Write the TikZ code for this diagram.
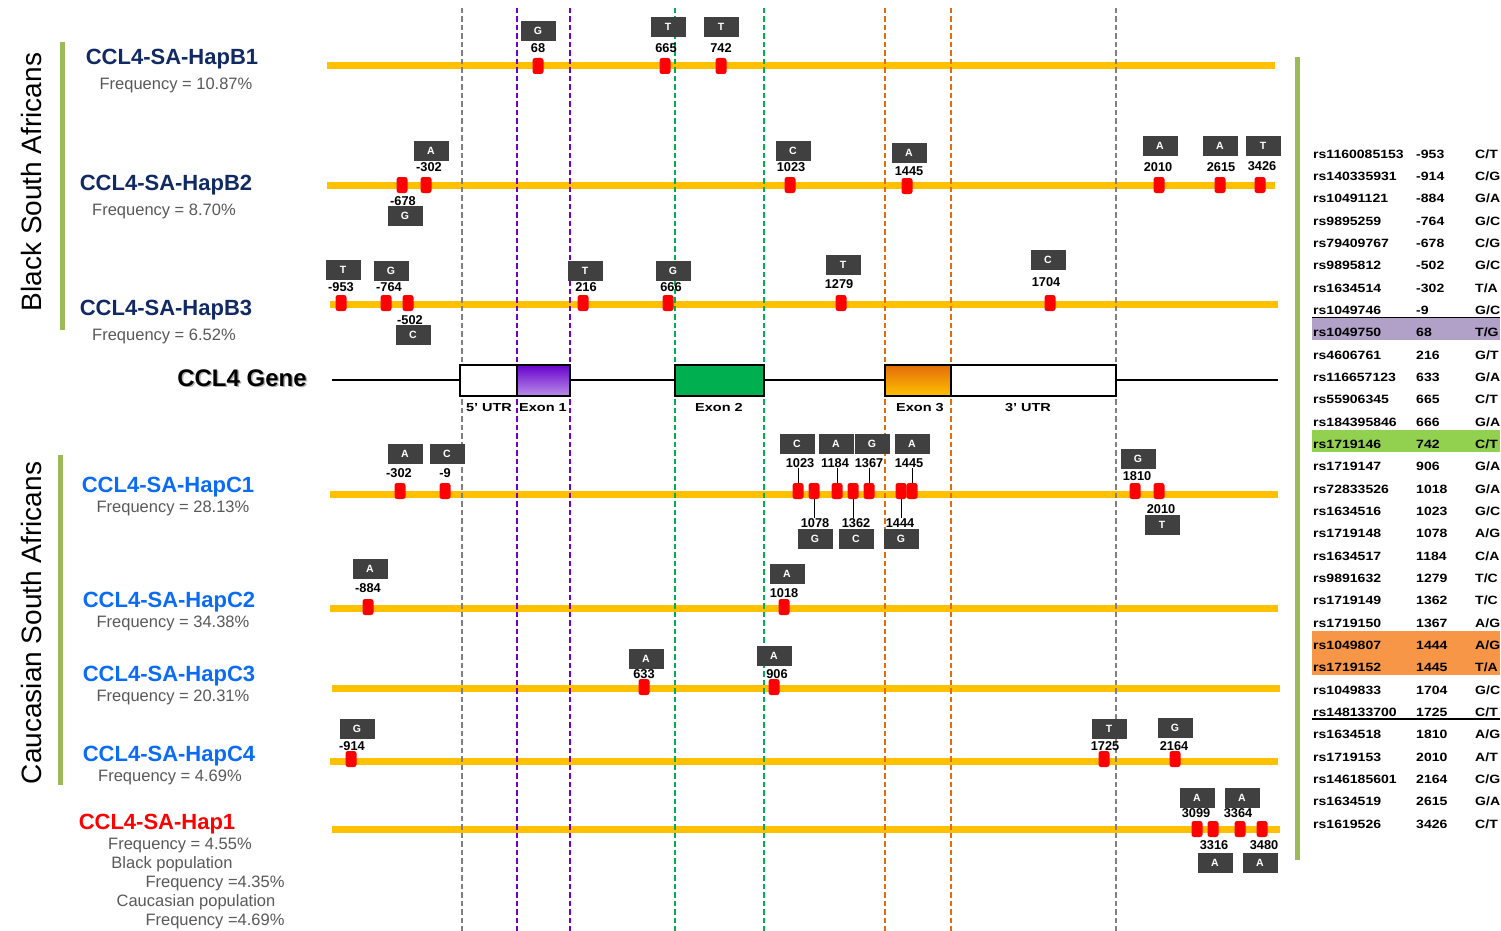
\documentclass[tikz,border=0pt]{standalone}
\usepackage{fontspec}
\setmainfont{Liberation Sans}
\usepackage{graphicx}
\definecolor{barY}{RGB}{255,192,0}
\definecolor{boxG}{RGB}{64,64,64}
\definecolor{hapNavy}{RGB}{18,42,100}
\definecolor{hapBlue}{RGB}{10,108,245}
\definecolor{grnBar}{RGB}{155,187,89}
\definecolor{freqG}{RGB}{89,89,89}
\definecolor{dGray}{RGB}{128,128,128}
\definecolor{dPurp}{RGB}{112,0,204}
\definecolor{dGreen}{RGB}{0,176,80}
\definecolor{dOrange}{RGB}{228,108,10}
\definecolor{tPurp}{RGB}{177,160,199}
\definecolor{tGreen}{RGB}{146,208,80}
\definecolor{tOrange}{RGB}{247,150,70}
\definecolor{exPurp}{RGB}{102,0,204}
\definecolor{exOrT}{RGB}{226,107,10}
\definecolor{exOrM}{RGB}{255,102,0}
\newcommand\sx[1]{\scalebox{1.17}[1]{#1}}
\newcommand\gx[1]{\scalebox{1.25}[1]{#1}}
\newcommand\snp[9]{%
  \node[mk] (m#1) at (#2,#3) {};
  \node[num] (n#1) at (#4,#5) {#6};
  \node[al] (a#1) at (#7,#8) {#9};}
\tikzset{
  vdash/.style={line width=2pt, dash pattern=on 5.5pt off 3pt},
  hapbar/.style={draw=barY, line width=7pt},
  grnbar/.style={draw=grnBar, line width=5pt},
  mk/.style={rectangle, rounded corners=2.5pt, fill=red, minimum width=11pt, minimum height=16pt, inner sep=0pt},
  num/.style={font=\bfseries\fontsize{12.8}{13}\selectfont, inner sep=0pt, text height=9.2pt, text depth=0pt},
  al/.style={fill=boxG, text=white, font=\bfseries\fontsize{10.5}{11}\selectfont, minimum width=35pt, minimum height=20pt, inner sep=0pt},
  hapname/.style={font=\bfseries\fontsize{22}{24}\selectfont, inner sep=0pt, text height=15.7pt, text depth=0pt},
  freq/.style={font=\fontsize{16.5}{18}\selectfont, text=freqG, inner sep=0pt, text height=11.8pt, text depth=0pt},
  tab/.style={font=\bfseries\fontsize{12}{13}\selectfont, anchor=west, inner sep=0pt, text height=8.6pt, text depth=0pt},
  glab/.style={font=\bfseries\fontsize{11.6}{12}\selectfont, inner sep=0pt, text height=8.3pt, text depth=0pt},
  gbox/.style={draw=black, line width=2pt, minimum height=31pt, inner sep=0pt},
  gline/.style={line width=2pt},
  tick/.style={line width=1pt},
  side/.style={rotate=90, font=\fontsize{28}{30}\selectfont, inner sep=0pt}
}
\begin{document}
\begin{tikzpicture}[x=1pt,y=-1pt]
\useasboundingbox (0,0) rectangle (1501,931);
\fill[white] (0,0) rectangle (1501,931);

% side labels and green bars
\node[side] (lblB) at (31,182) {Black South Africans};
\node[side] (lblC) at (31,623) {Caucasian South Africans};
\draw[grnbar] (62,42) -- (62,330);
\draw[grnbar] (60,455) -- (60,785);
\draw[grnbar] (1297,57) -- (1297,860);

% haplotype names
\node[hapname, text=hapNavy] (hB1) at (172,57) {CCL4-SA-HapB1};
\node[freq] (fB1) at (176,84) {Frequency = 10.87\%};
\node[hapname, text=hapNavy] (hB2) at (166,183) {CCL4-SA-HapB2};
\node[freq] (fB2) at (164,210) {Frequency = 8.70\%};
\node[hapname, text=hapNavy] (hB3) at (166,308) {CCL4-SA-HapB3};
\node[freq] (fB3) at (164,335) {Frequency = 6.52\%};
\node[hapname, text=hapBlue] (hC1) at (168,485) {CCL4-SA-HapC1};
\node[freq] (fC1) at (173,507) {Frequency = 28.13\%};
\node[hapname, text=hapBlue] (hC2) at (169,600) {CCL4-SA-HapC2};
\node[freq] (fC2) at (173,622) {Frequency = 34.38\%};
\node[hapname, text=hapBlue] (hC3) at (169,674) {CCL4-SA-HapC3};
\node[freq] (fC3) at (173,696) {Frequency = 20.31\%};
\node[hapname, text=hapBlue] (hC4) at (169,754) {CCL4-SA-HapC4};
\node[freq] (fC4) at (170,776) {Frequency = 4.69\%};
\node[hapname, text=red] (hH1) at (157,822) {CCL4-SA-Hap1};
\node[freq] (fH1) at (180,844) {Frequency = 4.55\%};
\node[freq] (fH1b) at (172,863) {Black population};
\node[freq] (fH1c) at (215,882) {Frequency =4.35\%};
\node[freq] (fH1d) at (196,901) {Caucasian population};
\node[freq] (fH1e) at (215,920) {Frequency =4.69\%};

% haplotype bars
\draw[hapbar] (327,66) -- (1275,66);
\draw[hapbar] (327,185) -- (1275,185);
\draw[hapbar] (330,304) -- (1278,304);
\draw[hapbar] (330,494) -- (1278,494);
\draw[hapbar] (330,608) -- (1278,608);
\draw[hapbar] (332,688) -- (1280,688);
\draw[hapbar] (330,761) -- (1278,761);
\draw[hapbar] (332,829) -- (1280,829);

% dashed region lines
\draw[vdash, dGray] (462,8) -- (462,931);
\draw[vdash, dPurp] (517,8) -- (517,931);
\draw[vdash, dPurp] (570,8) -- (570,931);
\draw[vdash, dGreen] (675,8) -- (675,931);
\draw[vdash, dGreen] (764,8) -- (764,931);
\draw[vdash, dOrange] (885,8) -- (885,931);
\draw[vdash, dOrange] (951,8) -- (951,931);
\draw[vdash, dGray] (1116,8) -- (1116,931);

% gene
\node[font=\bfseries\fontsize{24}{26}\selectfont, text=black!30, inner sep=0pt] (geneSh) at (243.5,379.5) {CCL4 Gene};
\node[font=\bfseries\fontsize{24}{26}\selectfont, inner sep=0pt] (geneT) at (242,378) {CCL4 Gene};
\coordinate (gs) at (332,380);
\coordinate (ge) at (1278,380);
\node[gbox, fill=white, minimum width=57pt] (utr5) at (488.5,380) {};
\node[gbox, top color=exPurp, middle color=exPurp, bottom color=exPurp!45!white, minimum width=53pt] (ex1) at (543.5,380) {};
\node[gbox, fill=dGreen, minimum width=89pt] (ex2) at (719.5,380) {};
\node[gbox, top color=exOrT, middle color=exOrM, bottom color=barY, minimum width=66pt] (ex3) at (918,380) {};
\node[gbox, fill=white, minimum width=165pt] (utr3) at (1033.5,380) {};
\draw[gline] (gs) -- (utr5.west);
\draw[gline] (ex1.east) -- (ex2.west);
\draw[gline] (ex2.east) -- (ex3.west);
\draw[gline] (utr3.east) -- (ge);
\node[glab] (l5) at (489,407) {\gx{5’ UTR}};
\node[glab] (le1) at (543,407) {\gx{Exon 1}};
\node[glab] (le2) at (719,407) {\gx{Exon 2}};
\node[glab] (le3) at (920,407) {\gx{Exon 3}};
\node[glab] (l3) at (1028,407) {\gx{3’ UTR}};

% B1
\snp{b1a}{538}{66}{538}{48}{68}{538}{31}{G}
\snp{b1b}{665}{66}{666}{48}{665}{668}{27}{T}
\snp{b1c}{721}{66}{721}{48}{742}{721}{27}{T}
% B2
\snp{b2a}{402}{185}{403}{201}{-678}{405}{216}{G}
\snp{b2b}{426}{185}{429}{167}{-302}{431}{151}{A}
\snp{b2c}{790}{185}{791}{167}{1023}{793}{151}{C}
\snp{b2d}{907}{186}{909}{171}{1445}{909}{153}{A}
\snp{b2e}{1159}{185}{1158}{167}{2010}{1160}{146}{A}
\snp{b2f}{1220}{185}{1221}{167}{2615}{1220}{146}{A}
\snp{b2g}{1260}{185}{1262}{166}{3426}{1263}{146}{T}
% B3
\snp{b3a}{341}{303}{341}{287}{-953}{343}{270}{T}
\snp{b3b}{386}{303}{389}{287}{-764}{391}{271}{G}
\snp{b3c}{408}{303}{410}{320}{-502}{413}{335}{C}
\snp{b3d}{583}{303}{586}{287}{216}{585}{271}{T}
\snp{b3e}{668}{303}{671}{287}{666}{673}{271}{G}
\snp{b3f}{841}{303}{839}{284}{1279}{843}{265}{T}
\snp{b3g}{1050}{303}{1046}{282}{1704}{1048}{260}{C}
% C1
\snp{c1a}{400}{491}{399}{473}{-302}{405}{454}{A}
\snp{c1b}{445}{491}{445}{473}{-9}{447}{454}{C}
\snp{c1c}{798}{491}{800}{463}{1023}{797}{444}{C}
\snp{c1d}{814}{491}{815}{523}{1078}{815}{539}{G}
\snp{c1e}{837}{491}{835}{463}{1184}{836}{444}{A}
\snp{c1f}{853}{491}{856}{523}{1362}{856}{539}{C}
\snp{c1g}{869}{491}{869}{463}{1367}{872}{444}{G}
\snp{c1h}{901}{491}{900}{523}{1444}{901}{539}{G}
\snp{c1i}{912}{491}{909}{463}{1445}{912}{444}{A}
\snp{c1j}{1135}{491}{1137}{476}{1810}{1138}{459}{G}
\snp{c1k}{1159}{491}{1161}{509}{2010}{1162}{525}{T}
\foreach \k in {c,e,g,i} \draw[tick] (mc1\k.north) -- (mc1\k.north |- nc1\k.south);
\foreach \k in {d,f,h} \draw[tick] (mc1\k.south) -- (mc1\k.south |- nc1\k.north);
% C2
\snp{c2a}{368}{607}{368}{588}{-884}{370}{569}{A}
\snp{c2b}{784}{607}{784}{593}{1018}{787}{574}{A}
% C3
\snp{c3a}{644}{687}{644}{674}{633}{646}{659}{A}
\snp{c3b}{774}{687}{777}{674}{906}{774}{656}{A}
% C4
\snp{c4a}{351}{759}{352}{746}{-914}{357}{729}{G}
\snp{c4b}{1104}{759}{1105}{746}{1725}{1109}{729}{T}
\snp{c4c}{1175}{759}{1174}{746}{2164}{1175}{728}{G}
% Hap1
\snp{h1a}{1197}{829}{1196}{813}{3099}{1197}{798}{A}
\snp{h1b}{1213}{829}{1214}{845}{3316}{1215}{863}{A}
\snp{h1c}{1240}{829}{1238}{813}{3364}{1242}{798}{A}
\snp{h1d}{1262}{829}{1264}{845}{3480}{1260}{863}{A}

% table highlights
\fill[tPurp] (1312,318) rectangle (1500,340);
\fill[tGreen] (1312,429.5) rectangle (1500,451.5);
\fill[tOrange] (1312,630.5) rectangle (1500,675);
\draw[line width=1.2pt] (1312,317.5) -- (1500,317.5);
\draw[line width=1.2pt] (1312,719) -- (1500,719);

% table
\foreach \r/\p/\a [count=\i] in {
 rs1160085153/-953/{C/T}, rs140335931/-914/{C/G}, rs10491121/-884/{G/A},
 rs9895259/-764/{G/C}, rs79409767/-678/{C/G}, rs9895812/-502/{G/C},
 rs1634514/-302/{T/A}, rs1049746/-9/{G/C}, rs1049750/68/{T/G},
 rs4606761/216/{G/T}, rs116657123/633/{G/A}, rs55906345/665/{C/T},
 rs184395846/666/{G/A}, rs1719146/742/{C/T}, rs1719147/906/{G/A},
 rs72833526/1018/{G/A}, rs1634516/1023/{G/C}, rs1719148/1078/{A/G},
 rs1634517/1184/{C/A}, rs9891632/1279/{T/C}, rs1719149/1362/{T/C},
 rs1719150/1367/{A/G}, rs1049807/1444/{A/G}, rs1719152/1445/{T/A},
 rs1049833/1704/{G/C}, rs148133700/1725/{C/T}, rs1634518/1810/{A/G},
 rs1719153/2010/{A/T}, rs146185601/2164/{C/G}, rs1634519/2615/{G/A},
 rs1619526/3426/{C/T}} {
  \pgfmathsetmacro\yy{154+(\i-1)*22.33}
  \node[tab] (tr\i) at (1313,\yy) {\sx{\r}};
  \node[tab] (tp\i) at (1416,\yy) {\sx{\p}};
  \node[tab] (ta\i) at (1475,\yy) {\sx{\a}};
}
\end{tikzpicture}
\end{document}
